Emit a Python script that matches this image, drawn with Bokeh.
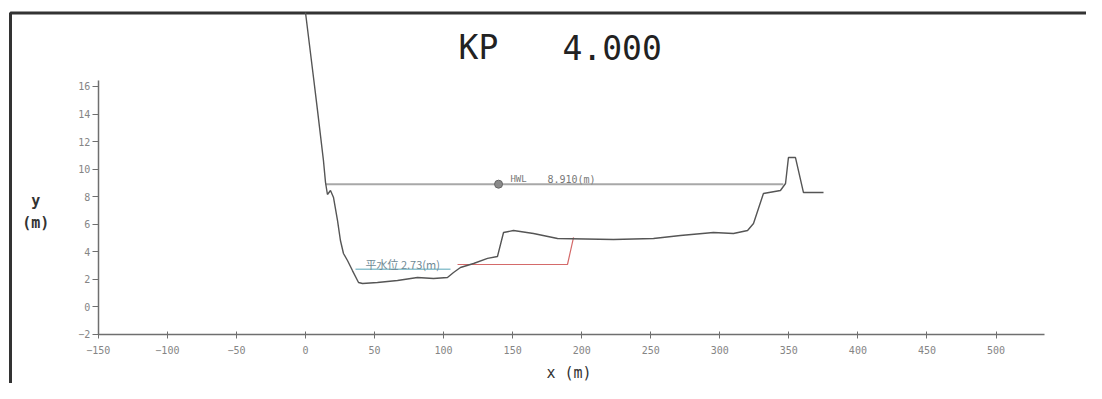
from bokeh.plotting import figure
from bokeh.models import Range1d, FixedTicker, Label
from bokeh.embed import file_html
from bokeh.resources import INLINE

# ---- data ----
ground_x = [0.0, 5.8, 8.7, 13.0, 14.5, 15.9, 18.1, 20.3, 23.2, 25.3, 27.5, 30.4, 34.0,
            38.4, 41.3, 52.1, 66.6, 81.1, 92.7, 102.8, 107.2, 112.2, 121.7, 131.8, 139.0,
            143.4, 150.6, 165.1, 182.5, 223.0, 252.0, 271.5, 295.4, 309.9, 320.1, 324.4,
            331.6, 343.9, 347.6, 349.7, 354.8, 360.6, 375.1]
ground_y = [21.37, 16.65, 14.26, 10.63, 9.03, 8.16, 8.45, 7.94, 6.27, 4.82, 3.88, 3.37, 2.64,
            1.77, 1.70, 1.77, 1.92, 2.14, 2.06, 2.14, 2.50, 2.86, 3.15, 3.52, 3.66,
            5.40, 5.55, 5.33, 4.97, 4.89, 4.97, 5.18, 5.40, 5.33, 5.55, 6.06,
            8.23, 8.45, 8.96, 10.84, 10.84, 8.30, 8.30]

design_x = [110.1, 189.7, 194.1]
design_y = [3.08, 3.08, 5.04]

hwl_level = 8.91
hwl_x = [14.5, 346.0]
hwl_mark_x = [139.8]

low_level = 2.73
low_x = [36.2, 105.0]

xticks = [-150, -100, -50, 0, 50, 100, 150, 200, 250, 300, 350, 400, 450, 500]
yticks = [-2, 0, 2, 4, 6, 8, 10, 12, 14, 16]

title_kp = "KP"
title_val = "4.000"
hwl_name = "HWL"
hwl_val = "8.910(m)"
low_text = "平水位 2.73(m)"

# ---- view ----
X0, X1 = -220.85, 565.53
Y0, Y1 = -5.556, 22.238

p = figure(width=1086, height=383, x_range=Range1d(X0, X1), y_range=Range1d(Y0, Y1),
           output_backend="svg", toolbar_location=None, min_border=0, title=None)
p.xgrid.visible = False
p.ygrid.visible = False
p.outline_line_color = None
p.background_fill_color = "white"
p.border_fill_color = "white"

axis_col = "#6f6f6f"
lab_col = "#858585"

xa = p.xaxis[0]
xa.fixed_location = -2
xa.bounds = (-150, 535)
xa.ticker = FixedTicker(ticks=xticks)
xa.minor_tick_line_color = None
xa.major_tick_in = 3
xa.major_tick_out = 4
xa.axis_line_color = axis_col
xa.axis_line_width = 1.5
xa.major_tick_line_color = axis_col
xa.major_label_text_color = lab_col
xa.major_label_text_font = "DejaVu Sans Mono"
xa.major_label_text_font_size = "10px"
xa.major_label_standoff = 8

ya = p.yaxis[0]
ya.fixed_location = -150
ya.bounds = (-2, 16.4)
ya.ticker = FixedTicker(ticks=yticks)
ya.minor_tick_line_color = None
ya.major_tick_in = 0
ya.major_tick_out = 6
ya.axis_line_color = axis_col
ya.axis_line_width = 1.5
ya.major_tick_line_color = axis_col
ya.major_label_text_color = lab_col
ya.major_label_text_font = "DejaVu Sans Mono"
ya.major_label_text_font_size = "10px"
ya.major_label_standoff = 2

# drawing border (left and top edges of the sheet frame)
bx = X0 + 10.0 / 1.381
by = Y1 - 12.5 / 13.78
p.line([bx, bx, X1 + 10], [Y0 - 5, by, by], line_color="#333333", line_width=3)

# lines
p.line(hwl_x, [hwl_level, hwl_level], line_color="#a8a8a8", line_width=2)
p.line(low_x, [low_level, low_level], line_color="#8fc3cf", line_width=1.5)
p.line(design_x, design_y, line_color="#d46a6a", line_width=1.2)
p.line(ground_x, ground_y, line_color="#555555", line_width=1.4)
p.scatter(hwl_mark_x, [hwl_level], size=8, marker="circle", fill_color="#8a8a8a",
          line_color="#666666")

# texts
mono = "DejaVu Sans Mono"
p.add_layout(Label(x=110.8, y=18.83, text=title_kp, text_font=mono,
                   text_font_size="33px", text_color="#222222", text_align="left",
                   text_baseline="middle"))
p.add_layout(Label(x=186.1, y=18.83, text=title_val, text_font=mono,
                   text_font_size="33px", text_color="#222222", text_align="left",
                   text_baseline="middle"))
p.add_layout(Label(x=148.4, y=9.25, text=hwl_name, text_font=mono,
                   text_font_size="9px", text_color="#777777", text_align="left",
                   text_baseline="middle"))
p.add_layout(Label(x=175.2, y=9.25, text=hwl_val, text_font=mono,
                   text_font_size="10px", text_color="#777777", text_align="left",
                   text_baseline="middle"))
p.add_layout(Label(x=43.4, y=3.15, text=low_text, text_font="Noto Sans CJK JP",
                   text_font_size="11px", text_color="#6f8a95", text_align="left",
                   text_baseline="middle"))
p.add_layout(Label(x=-195.3, y=7.72, text="y", text_font=mono, text_font_style="bold",
                   text_font_size="15px", text_color="#333333", text_align="center",
                   text_baseline="middle"))
p.add_layout(Label(x=-195.3, y=6.06, text="(m)", text_font=mono, text_font_style="bold",
                   text_font_size="15px", text_color="#333333", text_align="center",
                   text_baseline="middle"))
p.add_layout(Label(x=174.5, y=-4.76, text="x (m)", text_font=mono,
                   text_font_size="15px", text_color="#333333", text_align="left",
                   text_baseline="middle"))

open("out.html", "w").write(file_html(p, INLINE))
